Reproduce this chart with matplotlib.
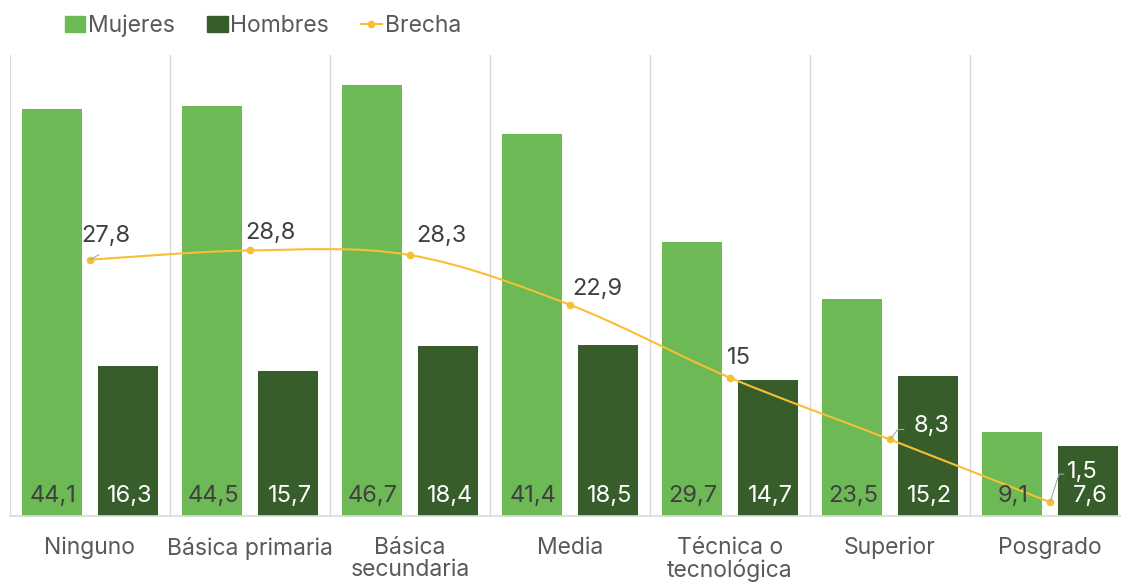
import numpy as np
import matplotlib
matplotlib.use("Agg")
import matplotlib.pyplot as plt
import matplotlib.transforms as mtransforms
from matplotlib.path import Path
from matplotlib.patches import PathPatch, Patch
from matplotlib.lines import Line2D

categorias = ["Ninguno", "Básica primaria", "Básica\nsecundaria", "Media",
              "Técnica o\ntecnológica", "Superior", "Posgrado"]
mujeres = [44.1, 44.5, 46.7, 41.4, 29.7, 23.5, 9.1]
hombres = [16.3, 15.7, 18.4, 18.5, 14.7, 15.2, 7.6]
brecha = [27.8, 28.8, 28.3, 22.9, 15.0, 8.3, 1.5]
brecha_txt = ["27,8", "28,8", "28,3", "22,9", "15", "8,3", "1,5"]

c_muj = "#6DB956"
c_hom = "#375E2A"
c_bre = "#F9BF33"
c_txt = "#595959"
c_grid = "#D9D9D9"
c_lead = "#A6A6A6"

plt.rcParams["font.family"] = ["Inter", "DejaVu Sans"]

fig = plt.figure(figsize=(11.21, 5.86), dpi=100)
ax = fig.add_axes([10 / 1121, 70 / 586, 1120 / 1121, 461 / 586])

x = np.arange(len(categorias))
w = 60 / 160
off = 38 / 160
ax.bar(x - off, mujeres, w, color=c_muj, zorder=2)
ax.bar(x + off, hombres, w, color=c_hom, zorder=2)


def fmt(v):
    return f"{v:.1f}".replace(".", ",")


for i in range(len(x)):
    ax.annotate(fmt(mujeres[i]), (x[i] - off, 0), xytext=(1, 9), textcoords="offset pixels",
                ha="center", va="bottom", fontsize=17, color="#404040", zorder=4)
    ax.annotate(fmt(hombres[i]), (x[i] + off, 0), xytext=(2, 9), textcoords="offset pixels",
                ha="center", va="bottom", fontsize=17, color="white", zorder=4)

# smoothed line (Excel style cubic bezier through the points)
pts = np.column_stack([x, brecha]).astype(float)
verts = [pts[0]]
codes = [Path.MOVETO]
n = len(pts)
for i in range(n - 1):
    p0 = pts[max(i - 1, 0)]
    p1 = pts[i]
    p2 = pts[i + 1]
    p3 = pts[min(i + 2, n - 1)]
    verts += [p1 + (p2 - p0) / 6, p2 - (p3 - p1) / 6, p2]
    codes += [Path.CURVE4] * 3
ax.add_patch(PathPatch(Path(verts, codes), fill=False, edgecolor=c_bre, lw=1.5, zorder=3))
ax.plot(x, brecha, "o", color=c_bre, ms=4.5, zorder=3)

lab_off = [(-9, 13), (-5, 6), (6, 8), (2, 5), (-3, 9), (24, 2), (17, 19)]
lab_col = ["#404040"] * 5 + ["white", "white"]
for i in range(n):
    ax.annotate(brecha_txt[i], (x[i], brecha[i]), xytext=lab_off[i], textcoords="offset pixels",
                ha="left", va="bottom", fontsize=17, color=lab_col[i], zorder=5)

# leader lines, pixel offsets from the point
leaders = {0: [(0, 0), (9, 5)],
           5: [(0, 0), (8, 10), (14, 10)],
           6: [(0, 0), (9, 28), (14, 28)]}
for i, segs in leaders.items():
    for a, b in zip(segs[:-1], segs[1:]):
        ta = mtransforms.offset_copy(ax.transData, fig=fig, x=a[0], y=a[1], units="dots")
        tb = mtransforms.offset_copy(ax.transData, fig=fig, x=b[0], y=b[1], units="dots")
        ax.annotate("", (x[i], brecha[i]), xycoords=ta, xytext=(x[i], brecha[i]), textcoords=tb,
                    arrowprops=dict(arrowstyle="-", color=c_lead, lw=0.8, shrinkA=0, shrinkB=0))

ax.set_xlim(-0.5, len(x) - 0.5)
ax.set_ylim(0, 50)
for b in np.arange(-0.5, len(x), 1.0):
    ax.axvline(b, color=c_grid, lw=1, zorder=1)
for s in ["top", "right", "left"]:
    ax.spines[s].set_visible(False)
ax.spines["bottom"].set_color(c_grid)
ax.spines["bottom"].set_linewidth(1.2)
ax.set_yticks([])
ax.set_xticks(x)
ax.set_xticklabels(categorias, fontsize=16.5, color=c_txt, linespacing=1.02, va="top")
ax.tick_params(axis="x", length=0, pad=15)

handles = [Patch(color=c_muj), Patch(color=c_hom),
           Line2D([0], [0], color=c_bre, lw=1.5, marker="o", ms=4.5)]
fig.legend(handles, ["Mujeres", "Hombres", "Brecha"], loc="upper left",
           bbox_to_anchor=(44 / 1121, 1.01), ncol=3, frameon=False, fontsize=16.5,
           labelcolor=c_txt, handlelength=0.9, handletextpad=0.12, columnspacing=1.4,
           handleheight=0.7)

fig.savefig("out.png", dpi=100)
